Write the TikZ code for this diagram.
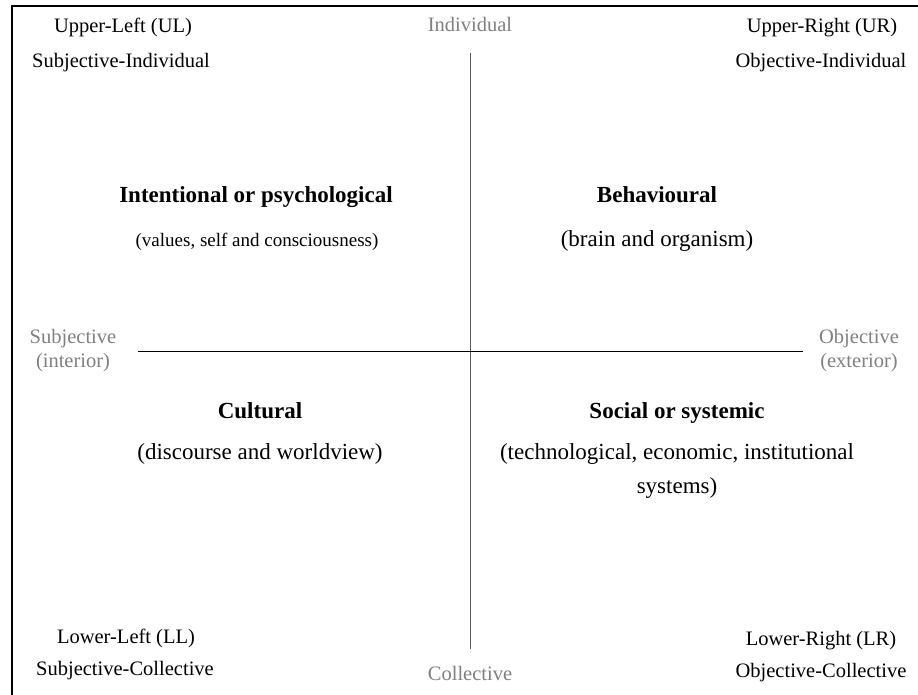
\documentclass[tikz,border=0pt]{standalone}
\usepackage{fontspec}
\setmainfont{Liberation Serif}
\begin{document}
\begin{tikzpicture}[x=1pt,y=-1pt,
  lbl/.style={anchor=base,inner sep=0pt,font=\fontsize{20.5}{24}\selectfont},
  pole/.style={lbl,text=black!50},
  body/.style={anchor=base,inner sep=0pt,font=\fontsize{23}{27}\selectfont},
  small body/.style={body,font=\fontsize{19}{23}\selectfont},
  head/.style={body,font=\fontsize{23}{27}\selectfont\bfseries},
  frame/.style={line width=2pt,line cap=rect},
  axisv/.style={line width=1pt,draw=black!65},
  axish/.style={line width=1pt,draw=black}]
\useasboundingbox (0,0) rectangle (918,695);
% open frame along the top and left
\draw[frame] (12,695) -- (12,6) -- (918,6);

% axes
\coordinate (vtop) at (470,53);
\coordinate (vbot) at (470,649);
\coordinate (hleft) at (138,351.5);
\coordinate (hright) at (803,351.5);
\draw[axisv] (vtop) -- (vbot);
\draw[axish] (hleft) -- (hright);

% poles of the axes
\node[pole] (individual) at (470,32) {Individual};
\node[pole] (collective) at (470,680) {Collective};
\node[pole] (subj1) at (73,343) {Subjective};
\node[pole] (subj2) at (73,367) {(interior)};
\node[pole] (obj1) at (859,343) {Objective};
\node[pole] (obj2) at (859,367) {(exterior)};

% corner labels
\node[lbl] (ul) at (123,33) {Upper-Left (UL)};
\node[lbl] (uldesc) at (121,68) {Subjective-Individual};
\node[lbl] (ur) at (822,33) {Upper-Right (UR)};
\node[lbl] (urdesc) at (821,68) {Objective-Individual};
\node[lbl] (ll) at (126,643) {Lower-Left (LL)};
\node[lbl] (lldesc) at (125,675) {Subjective-Collective};
\node[lbl] (lr) at (821,645) {Lower-Right (LR)};
\node[lbl] (lrdesc) at (821,677) {Objective-Collective};

% quadrant contents
\node[head] (intent) at (256,203) {Intentional or psychological};
\node[small body] (intentd) at (257,246) {(values, self and consciousness)};
\node[head] (behav) at (657,203) {Behavioural};
\node[body] (behavd) at (657,247) {(brain and organism)};
\node[head] (cult) at (260,418) {Cultural};
\node[body] (cultd) at (260,459) {(discourse and worldview)};
\node[head] (social) at (677,418) {Social or systemic};
\node[body] (sociald1) at (677,459) {(technological, economic, institutional};
\node[body] (sociald2) at (677,493) {systems)};
\end{tikzpicture}
\end{document}
